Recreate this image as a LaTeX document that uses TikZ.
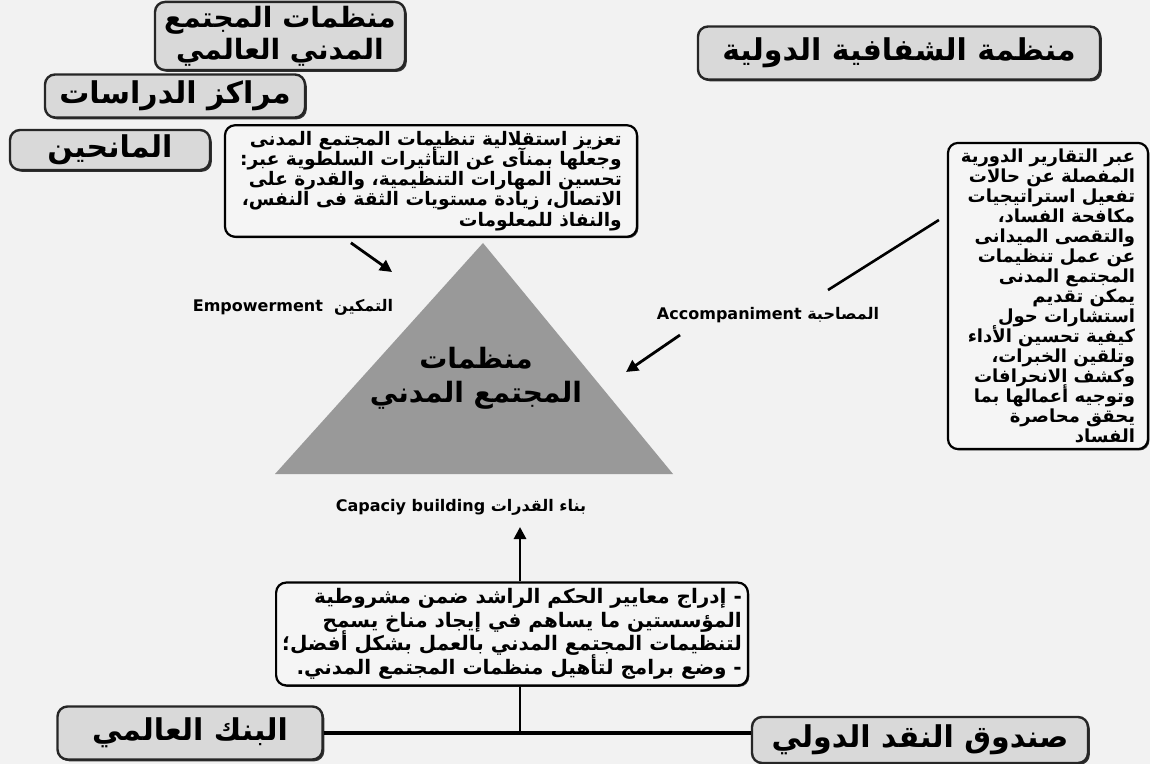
\documentclass[tikz,border=0pt]{standalone}
\usepackage{fontspec}
\setmainfont{DejaVu Sans}
\newfontfamily\arabicfont[Script=Arabic]{DejaVu Sans}
\TeXXeTstate=1
\lineskiplimit=-20pt
\usetikzlibrary{arrows.meta,shadows}
\newcommand{\arb}[1]{{\arabicfont\beginR #1\endR}}

\begin{document}
\begin{tikzpicture}[x=0.5pt, y=-0.5pt,
    caixa/.style={
        rectangle, rounded corners=5pt, draw=black!85, line width=1.2pt,
        fill=black!15, inner sep=2pt, align=center,
        font=\bfseries\fontsize{15}{16}\selectfont,
        drop shadow={shadow xshift=0.9pt, shadow yshift=-0.9pt, fill=black!80, opacity=1}
    },
    nota/.style={
        rectangle, rounded corners=5pt, draw=black, line width=1.1pt,
        fill=black!4, align=right, inner sep=3pt,
        drop shadow={shadow xshift=0.7pt, shadow yshift=-0.7pt, fill=black!80, opacity=1}
    },
    rotulo/.style={font=\bfseries\fontsize{8}{9}\selectfont},
    seta/.style={line width=1.4pt, -{Triangle[length=6pt,width=6pt]}}
    ]
    \useasboundingbox (0,0) rectangle (1150,764);
    \fill[black!5] (0,0) rectangle (1150,764);

    % headings
    \node [caixa, minimum width=125pt, minimum height=31.5pt,
           font=\bfseries\fontsize{14}{16}\selectfont] (madani) at (280,36)
          {\arb{منظمات المجتمع}\\\arb{المدني العالمي}};
    \node [caixa, minimum width=130pt, minimum height=21.5pt] (marakiz) at (175,96) {\arb{مراكز الدراسات}};
    \node [caixa, minimum width=100pt, minimum height=20pt] (manihin) at (110,150) {\arb{المانحين}};
    \node [caixa, minimum width=201pt, minimum height=26.5pt] (shafafiya) at (899,53) {\arb{منظمة الشفافية الدولية}};
    \node [caixa, minimum width=132.5pt, minimum height=26.5pt] (bank) at (190,733) {\arb{البنك العالمي}};
    \node [caixa, minimum width=168pt, minimum height=23pt] (sunduq) at (920,740) {\arb{صندوق النقد الدولي}};

    % text boxes
    \node [nota, minimum width=206pt, minimum height=46pt,
           font=\bfseries\fontsize{9.3}{10.1}\selectfont] (taziz) at (431,181)
          {\arb{تعزيز استقلالية تنظيمات المجتمع المدنى}\\
           \arb{وجعلها بمنآى عن التأثيرات السلطوية عبر:}\\
           \arb{تحسين المهارات التنظيمية، والقدرة على}\\
           \arb{الاتصال، زيادة مستويات الثقة فى النفس،}\\
           \arb{والنفاذ للمعلومات}};
    \node [nota, minimum width=100pt, minimum height=139pt,
           font=\bfseries\fontsize{9}{10}\selectfont] (nasiha) at (1048,296)
          {\arb{عبر التقارير الدورية}\\
           \arb{المفصلة عن حالات}\\
           \arb{تفعيل استراتيجيات}\\
           \arb{مكافحة الفساد،}\\
           \arb{والتقصى الميدانى}\\
           \arb{عن عمل تنظيمات}\\
           \arb{المجتمع المدنى}\\
           \arb{يمكن تقديم}\\
           \arb{استشارات حول}\\
           \arb{كيفية تحسين الأداء}\\
           \arb{وتلقين الخبرات،}\\
           \arb{وكشف الانحرافات}\\
           \arb{وتوجيه أعمالها بما}\\
           \arb{يحقق محاصرة}\\
           \arb{الفساد}};
    \node [nota, minimum width=234.5pt, minimum height=47.5pt,
           font=\bfseries\fontsize{10}{11.8}\selectfont] (base) at (512,634)
          {\arb{- إدراج معايير الحكم الراشد ضمن مشروطية}\\
           \arb{المؤسستين ما يساهم في إيجاد مناخ يسمح}\\
           \arb{لتنظيمات المجتمع المدني بالعمل بشكل أفضل؛}\\
           \arb{- وضع برامج لتأهيل منظمات المجتمع المدني.}};

    % pyramid
    \fill[black!40] (483,243) coordinate (qimma) -- (275,474) coordinate (yasar)
        -- (673,474) coordinate (yamin) -- cycle;
    \node [font=\bfseries\fontsize{14}{17}\selectfont, align=center] (haram) at (476,378)
          {\arb{منظمات}\\\arb{المجتمع المدني}};

    % labels
    \node [rotulo] (tamkin) at (293,307) {Empowerment\ \ \arb{التمكين}};
    \node [rotulo] (musahaba) at (768,315) {Accompaniment \arb{المصاحبة}};
    \node [rotulo] (qudurat) at (461,507) {Capaciy building \arb{بناء القدرات}};

    % connectors
    \coordinate (ponta1) at (392,272);
    \coordinate (fim2) at (828,290);
    \coordinate (cauda3) at (680,335);
    \coordinate (ponta3) at (626,372);
    \coordinate (ponta4) at (520,527);
    \draw[seta] ([shift={(127,5)}]taziz.south west) -- (ponta1);
    \draw[line width=1.3pt] ([shift={(-8,-76)}]nasiha.west) -- (fim2);
    \draw[seta] (cauda3) -- (ponta3);
    \draw[seta] ([xshift=4pt]base.north) -- (ponta4);
    \draw[line width=1.3pt] ([xshift=4pt]base.south) -- ([xshift=4pt]base.south |- bank.east);
    \draw[line width=1.6pt] (bank.east) -- (bank.east -| sunduq.west);
\end{tikzpicture}
\end{document}
